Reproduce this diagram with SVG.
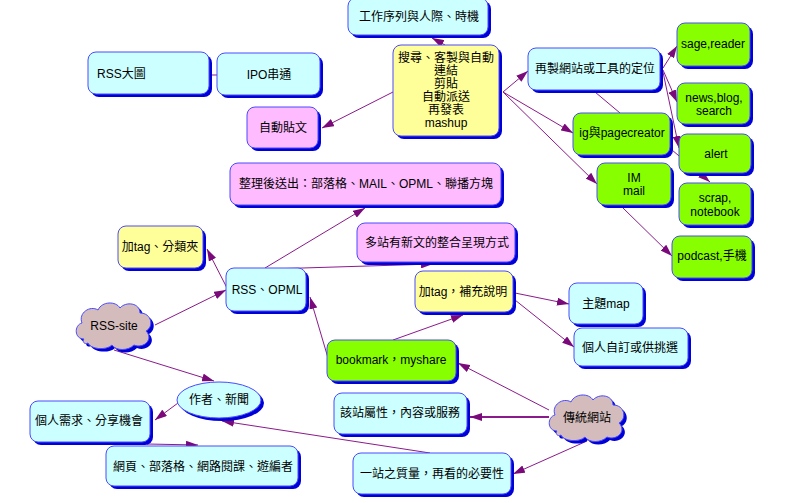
<svg xmlns="http://www.w3.org/2000/svg" width="800" height="503" viewBox="0 0 800 503">
<style>
text{font-family:"Liberation Sans","Noto Sans CJK TC",sans-serif;font-size:12px;fill:#000;text-anchor:middle;dominant-baseline:central}
.sh{fill:#0000d8}
.b{stroke:#4a4aff;stroke-width:1}
.cy{fill:#ccffff}.pk{fill:#ffbbff}.ye{fill:#ffff99}.gr{fill:#88ff00}.cl{fill:#d4bcbc}
.c{stroke:#8b1a8b;stroke-width:1;fill:none}
.a{marker-end:url(#ah)}
</style>
<defs>
<marker id="ah" markerUnits="userSpaceOnUse" markerWidth="13" markerHeight="8" refX="12" refY="4" orient="auto"><path d="M0,0 L12,4 L0,8 z" fill="#7a0a7a"/></marker>
<path id="cloud" d="M10,38 C0,38 0,24 8,22 C4,12 16,4 24,9 C28,0 42,0 46,7 C52,0 66,2 66,12 C78,12 80,26 72,30 C80,38 70,48 60,44 C54,50 42,50 38,44 C32,50 16,48 14,42 C10,44 8,40 10,38 Z"/>
</defs>
<rect width="800" height="503" fill="#fff"/>
<g id="connectors">
<path class="c a" d="M445,45 L432,38"/>
<path class="c a" d="M393,92 L322,128"/>
<path class="c a" d="M503,92 L528,71"/>
<path class="c a" d="M503,92 L573,133"/>
<path class="c a" d="M503,92 L597,184"/>
<path class="c a" d="M663,68 L677,46"/>
<path class="c a" d="M663,70 L677,102"/>
<path class="c a" d="M663,72 L679,148"/>
<path class="c" d="M595,92 L620,113"/>
<path class="c a" d="M672,150 L710,182"/>
<path class="c a" d="M623,208 L672,256"/>
<path class="c a" d="M155,325 L226,290"/>
<path class="c a" d="M227,288 L207,249"/>
<path class="c a" d="M265,268 L365,208"/>
<path class="c a" d="M270,269 L433,264"/>
<path class="c a" d="M328,358 L310,297"/>
<path class="c a" d="M393,340 L463,315"/>
<path class="c a" d="M515,293 L569,304"/>
<path class="c a" d="M515,300 L574,347"/>
<path class="c a" d="M549,410 L458,363"/>
<path class="c a" d="M549,417 L470,417" style="stroke-width:2"/>
<path class="c a" d="M587,441 L513,474"/>
<path class="c a" d="M430,453 L222,421"/>
<path class="c a" d="M114,350 L214,381"/>
<path class="c a" d="M178,403 L155,420"/>
<path class="c a" d="M147,444 L198,445"/>
<path class="c" d="M210,75 L218,75"/>
</g>
<g id="n-rssbig"><rect class="sh" x="91" y="55" width="121" height="42" rx="8"/><rect class="b cy" x="88" y="52" width="121" height="42" rx="8"/><text x="97" y="74" style="text-anchor:start">RSS大圖</text></g>
<g id="n-ipo"><rect class="sh" x="220" y="56" width="103" height="42" rx="8"/><rect class="b cy" x="217" y="53" width="103" height="42" rx="8"/><text x="269" y="75">IPO串通</text></g>
<g id="n-autopost"><rect class="sh" x="250" y="110" width="71" height="41" rx="8"/><rect class="b pk" x="247" y="107" width="71" height="41" rx="8"/><text x="283" y="128">自動貼文</text></g>
<g id="n-work"><rect class="sh" x="351" y="1" width="140" height="37" rx="8"/><rect class="b cy" x="348" y="-2" width="140" height="37" rx="8"/><text x="419" y="17">工作序列與人際、時機</text></g>
<g id="n-center"><rect class="sh" x="396" y="48" width="106" height="91" rx="8"/><rect class="b ye" x="393" y="45" width="106" height="91" rx="8"/>
<text x="446" y="58">搜尋、客製與自動</text><text x="446" y="71">連結</text><text x="446" y="84">剪貼</text><text x="446" y="97">自動派送</text><text x="446" y="110">再發表</text><text x="446" y="123">mashup</text></g>
<g id="n-reuse"><rect class="sh" x="531" y="51" width="132" height="42" rx="8"/><rect class="b cy" x="528" y="48" width="132" height="42" rx="8"/><text x="595" y="69">再製網站或工具的定位</text></g>
<g id="n-sage"><rect class="sh" x="680" y="26" width="73" height="43" rx="8"/><rect class="b gr" x="677" y="23" width="73" height="43" rx="8"/><text x="713" y="44">sage,reader</text></g>
<g id="n-news"><rect class="sh" x="680" y="86" width="73" height="41" rx="8"/><rect class="b gr" x="677" y="83" width="73" height="41" rx="8"/><text x="714" y="98">news,blog,</text><text x="714" y="111">search</text></g>
<g id="n-ig"><rect class="sh" x="576" y="116" width="97" height="42" rx="8"/><rect class="b gr" x="573" y="113" width="97" height="42" rx="8"/><text x="622" y="133">ig與pagecreator</text></g>
<g id="n-alert"><rect class="sh" x="682" y="137" width="72" height="39" rx="8"/><rect class="b gr" x="679" y="134" width="72" height="39" rx="8"/><text x="716" y="154">alert</text></g>
<g id="n-im"><rect class="sh" x="600" y="166" width="74" height="42" rx="8"/><rect class="b gr" x="597" y="163" width="74" height="42" rx="8"/><text x="634" y="178">IM</text><text x="634" y="191">mail</text></g>
<g id="n-scrap"><rect class="sh" x="682" y="186" width="72" height="42" rx="8"/><rect class="b gr" x="679" y="183" width="72" height="42" rx="8"/><text x="715" y="198">scrap,</text><text x="715" y="212">notebook</text></g>
<g id="n-podcast"><rect class="sh" x="675" y="239" width="80" height="42" rx="8"/><rect class="b gr" x="672" y="236" width="80" height="42" rx="8"/><text x="712" y="256">podcast,手機</text></g>
<g id="n-output"><rect class="sh" x="233" y="166" width="271" height="42" rx="8"/><rect class="b pk" x="230" y="163" width="271" height="42" rx="8"/><text x="366" y="184">整理後送出：部落格、MAIL、OPML、聯播方塊</text></g>
<g id="n-multi"><rect class="sh" x="360" y="226" width="158" height="39" rx="8"/><rect class="b pk" x="357" y="223" width="158" height="39" rx="8"/><text x="437" y="243">多站有新文的整合呈現方式</text></g>
<g id="n-tagfolder"><rect class="sh" x="121" y="229" width="85" height="42" rx="8"/><rect class="b ye" x="118" y="226" width="85" height="42" rx="8"/><text x="160" y="247">加tag、分類夾</text></g>
<g id="n-rssopml"><rect class="sh" x="229" y="271" width="80" height="43" rx="8"/><rect class="b cy" x="226" y="268" width="80" height="43" rx="8"/><text x="267" y="290">RSS、OPML</text></g>
<g id="n-tagnote"><rect class="sh" x="418" y="274" width="98" height="41" rx="8"/><rect class="b ye" x="415" y="271" width="98" height="41" rx="8"/><text x="463" y="292">加tag，補充說明</text></g>
<g id="n-rsssite"><use href="#cloud" class="sh" transform="translate(77,304)"/><use href="#cloud" class="b cl" transform="translate(74,301)"/><text x="114" y="326">RSS-site</text></g>
<g id="n-bookmark"><rect class="sh" x="330" y="343" width="129" height="41" rx="8"/><rect class="b gr" x="327" y="340" width="129" height="41" rx="8"/><text x="391" y="360">bookmark，myshare</text></g>
<g id="n-topicmap"><rect class="sh" x="572" y="286" width="74" height="41" rx="8"/><rect class="b cy" x="569" y="283" width="74" height="41" rx="8"/><text x="606" y="304">主題map</text></g>
<g id="n-custom"><rect class="sh" x="577" y="331" width="114" height="38" rx="8"/><rect class="b cy" x="574" y="328" width="114" height="38" rx="8"/><text x="630" y="348">個人自訂或供挑選</text></g>
<g id="n-author"><ellipse class="sh" cx="222" cy="403" rx="42" ry="18"/><ellipse class="b cy" cx="219" cy="400" rx="42" ry="18"/><text x="219" y="400">作者、新聞</text></g>
<g id="n-need"><rect class="sh" x="33" y="404" width="120" height="41" rx="8"/><rect class="b cy" x="30" y="401" width="120" height="41" rx="8"/><text x="89" y="421">個人需求、分享機會</text></g>
<g id="n-attr"><rect class="sh" x="337" y="396" width="133" height="41" rx="8"/><rect class="b cy" x="334" y="393" width="133" height="41" rx="8"/><text x="400" y="413">該站屬性，內容或服務</text></g>
<g id="n-trad"><use href="#cloud" class="sh" transform="translate(550,396)"/><use href="#cloud" class="b cl" transform="translate(547,393)"/><text x="587" y="418">傳統網站</text></g>
<g id="n-web"><rect class="sh" x="109" y="449" width="192" height="40" rx="8"/><rect class="b cy" x="106" y="446" width="192" height="40" rx="8"/><text x="203" y="467">網頁、部落格、網路閱課、遊編者</text></g>
<g id="n-quality"><rect class="sh" x="356" y="456" width="158" height="41" rx="8"/><rect class="b cy" x="353" y="453" width="158" height="41" rx="8"/><text x="432" y="474">一站之質量，再看的必要性</text></g>
</svg>
